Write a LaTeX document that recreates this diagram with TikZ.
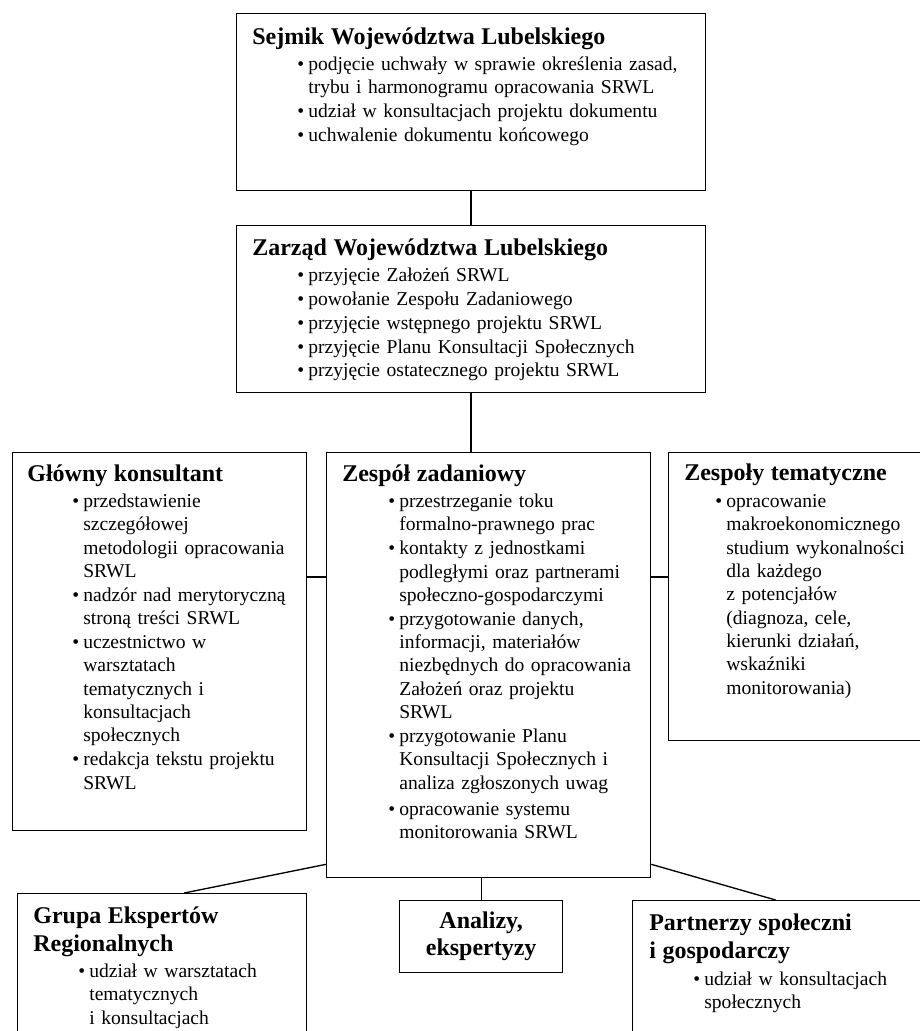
\documentclass[tikz,border=0pt]{standalone}
\usepackage{fontspec}
\setmainfont{Liberation Serif}
\newdimen\pxu \pxu=0.6pt
\newcommand\tytul[1]{{\fontsize{14.4}{16.8}\selectfont\bfseries #1\par}\vspace{1.6pt}}
\newcommand\pkt[2][45]{\par\vspace{0.3pt}\hangindent=\dimexpr#1\pxu+11\pxu\relax\hangafter=1
  \hspace*{#1\pxu}\makebox[11\pxu][l]{\textbullet}#2\par}

\begin{document}
\begin{tikzpicture}[x=0.6pt,y=-0.6pt,
    box/.style={draw,line width=0.8pt,rectangle,anchor=north west,inner sep=0pt},
    txt/.style={anchor=north west,inner sep=0pt,align=left,font=\fontsize{11.75}{14}\selectfont}]
  \clip (0,0) rectangle (920,1031);

  \node[box,minimum width=281.4pt,minimum height=106.2pt] (sejmik) at (236,13) {};
  \node[txt,text width=270pt] (sejmikT) at ([shift={(16,14)}]sejmik.north west) {%
    \tytul{Sejmik Województwa Lubelskiego}%
    \pkt{podjęcie uchwały w sprawie określenia zasad,\newline trybu i harmonogramu opracowania SRWL}
    \pkt{udział w konsultacjach projektu dokumentu}
    \pkt{uchwalenie dokumentu końcowego}};

  \node[box,minimum width=281.4pt,minimum height=100.2pt] (zarzad) at (236,225) {};
  \node[txt,text width=270pt] (zarzadT) at ([shift={(16,13)}]zarzad.north west) {%
    \tytul{Zarząd Województwa Lubelskiego}%
    \pkt{przyjęcie Założeń SRWL}
    \pkt{powołanie Zespołu Zadaniowego}
    \pkt{przyjęcie wstępnego projektu SRWL}
    \pkt{przyjęcie Planu Konsultacji Społecznych}
    \pkt{przyjęcie ostatecznego projektu SRWL}};

  \node[box,minimum width=176.4pt,minimum height=226.8pt] (glowny) at (12,452) {};
  \node[txt,text width=170pt] (glownyT) at ([shift={(15,12)}]glowny.north west) {%
    \tytul{Główny konsultant}%
    \pkt{przedstawienie\newline szczegółowej\newline metodologii opracowania\newline SRWL}
    \pkt{nadzór nad merytoryczną\newline stroną treści SRWL}
    \pkt{uczestnictwo w\newline warsztatach\newline tematycznych i\newline konsultacjach\newline społecznych}
    \pkt{redakcja tekstu projektu\newline SRWL}};

  \node[box,minimum width=194.4pt,minimum height=255pt] (zespol) at (326,452) {};
  \node[txt,text width=190pt] (zespolT) at ([shift={(16,12)}]zespol.north west) {%
    \tytul{Zespół zadaniowy}%
    \pkt[46]{przestrzeganie toku\newline formalno-prawnego prac}
    \pkt[46]{kontakty z jednostkami\newline podległymi oraz partnerami\newline społeczno-gospodarczymi}
    \pkt[46]{przygotowanie danych,\newline informacji, materiałów\newline niezbędnych do opracowania\newline Założeń oraz projektu\newline SRWL}
    \pkt[46]{przygotowanie Planu\newline Konsultacji Społecznych i\newline analiza zgłoszonych uwag}
    \vspace{1.5pt}\pkt[46]{opracowanie systemu\newline monitorowania SRWL}};

  \node[box,minimum width=163.2pt,minimum height=172.8pt] (tematy) at (668,452) {};
  \node[txt,text width=160pt] (tematyT) at ([shift={(16,12)}]tematy.north west) {%
    \tytul{Zespoły tematyczne}%
    \pkt[31]{opracowanie\newline makroekonomicznego\newline studium wykonalności\newline dla każdego\newline z potencjałów\newline (diagnoza, cele,\newline kierunki działań,\newline wskaźniki\newline monitorowania)}};

  \node[box,minimum width=173.4pt,minimum height=108pt] (grupa) at (17,893) {};
  \node[txt,text width=170pt] (grupaT) at ([shift={(16,13)}]grupa.north west) {%
    \tytul{Grupa Ekspertów\newline Regionalnych}%
    \pkt{udział w warsztatach\newline tematycznych\newline i konsultacjach}};

  \node[box,minimum width=97.8pt,minimum height=43.2pt,align=center,
    font=\fontsize{14.4}{16.2}\selectfont\bfseries] (analizy) at (399,900) {Analizy,\\ekspertyzy};

  \node[box,minimum width=184.8pt,minimum height=108pt] (partnerzy) at (632,900) {};
  \node[txt,text width=180pt] (partnerzyT) at ([shift={(17,14)}]partnerzy.north west) {%
    \tytul{Partnerzy społeczni\newline i gospodarczy}%
    \pkt[44]{udział w konsultacjach\newline społecznych}};

  % connectors
  \coordinate (mid) at (471,577);
  \draw[line width=0.8pt] (sejmik.south) -- (zarzad.north);
  \draw[line width=0.8pt] (zarzad.south) -- (zarzad.south |- zespol.north);
  \draw[line width=0.8pt] (glowny.east |- mid) -- (zespol.west |- mid);
  \draw[line width=0.8pt] (zespol.east |- mid) -- (tematy.west |- mid);
  \draw[line width=0.8pt] ([shift={(0,-14)}]zespol.south west) -- ([shift={(22,0)}]grupa.north);
  \draw[line width=0.8pt] (analizy.north) -- (analizy.north |- zespol.south);
  \draw[line width=0.8pt] ([shift={(0,-14)}]zespol.south east) -- ([shift={(-11,0)}]partnerzy.north);
\end{tikzpicture}
\end{document}
